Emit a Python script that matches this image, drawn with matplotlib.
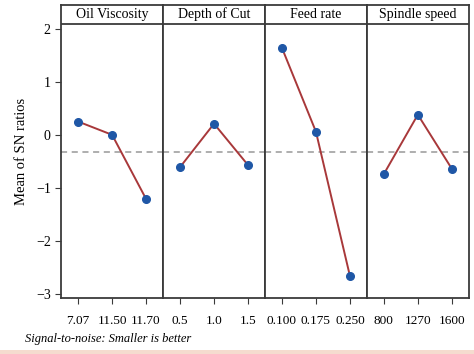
import matplotlib.pyplot as plt
from matplotlib.patches import Rectangle

plt.rcParams['font.family'] = ['Liberation Serif', 'DejaVu Serif']

factors = ['Oil Viscosity', 'Depth of Cut', 'Feed rate', 'Spindle speed']
levels = [['7.07', '11.50', '11.70'],
          ['0.5', '1.0', '1.5'],
          ['0.100', '0.175', '0.250'],
          ['800', '1270', '1600']]
oil_sn = [0.25, 0.0, -1.21]
depth_sn = [-0.61, 0.21, -0.57]
feed_sn = [1.64, 0.06, -2.66]
spindle_sn = [-0.74, 0.38, -0.64]
means = [oil_sn, depth_sn, feed_sn, spindle_sn]
grand_mean = -0.32

fig, axes = plt.subplots(1, 4, figsize=(4.74, 3.54), dpi=100, sharey=True)
fig.subplots_adjust(left=0.129, right=0.989, bottom=0.158, top=0.986, wspace=0)

edge = '#3a3a3a'
for i, ax in enumerate(axes):
    x = [1, 2, 3]
    ax.axhline(grand_mean, color='#999999', linestyle=(0, (4, 3)), linewidth=1.1)
    ax.plot(x, means[i], color='#a8383a', linewidth=1.4, zorder=3)
    ax.plot(x, means[i], 'o', color='#1f57a6', markersize=5.5, zorder=4)
    ax.set_xlim(0.5, 3.5)
    ax.set_ylim(-3.08, 2.45)
    ax.axhline(2.09, color=edge, linewidth=1.3)
    ax.text(2, 2.27, factors[i], ha='center', va='center', fontsize=10)
    ax.set_xticks(x)
    ax.set_xticklabels(levels[i], fontsize=9.5)
    ax.tick_params(axis='x', length=4, color=edge, pad=8)
    for s in ax.spines.values():
        s.set_color(edge)
        s.set_linewidth(1.3)
    if i > 0:
        ax.tick_params(axis='y', length=0)

axes[0].set_yticks([-3, -2, -1, 0, 1, 2])
axes[0].set_yticklabels(['\u22123', '\u22122', '\u22121', '0', '1', '2'], fontsize=10)
axes[0].tick_params(axis='y', length=4, color=edge)
axes[0].set_ylabel('Mean of SN ratios', fontsize=10.5, labelpad=6)

fig.text(0.053, 0.043, 'Signal-to-noise: Smaller is better', fontsize=9,
         style='italic', ha='left', va='center')
fig.patches.append(Rectangle((0, 0), 1, 0.012, transform=fig.transFigure,
                             facecolor='#f5dccf', edgecolor='none'))

plt.savefig('out.png', dpi=100)
